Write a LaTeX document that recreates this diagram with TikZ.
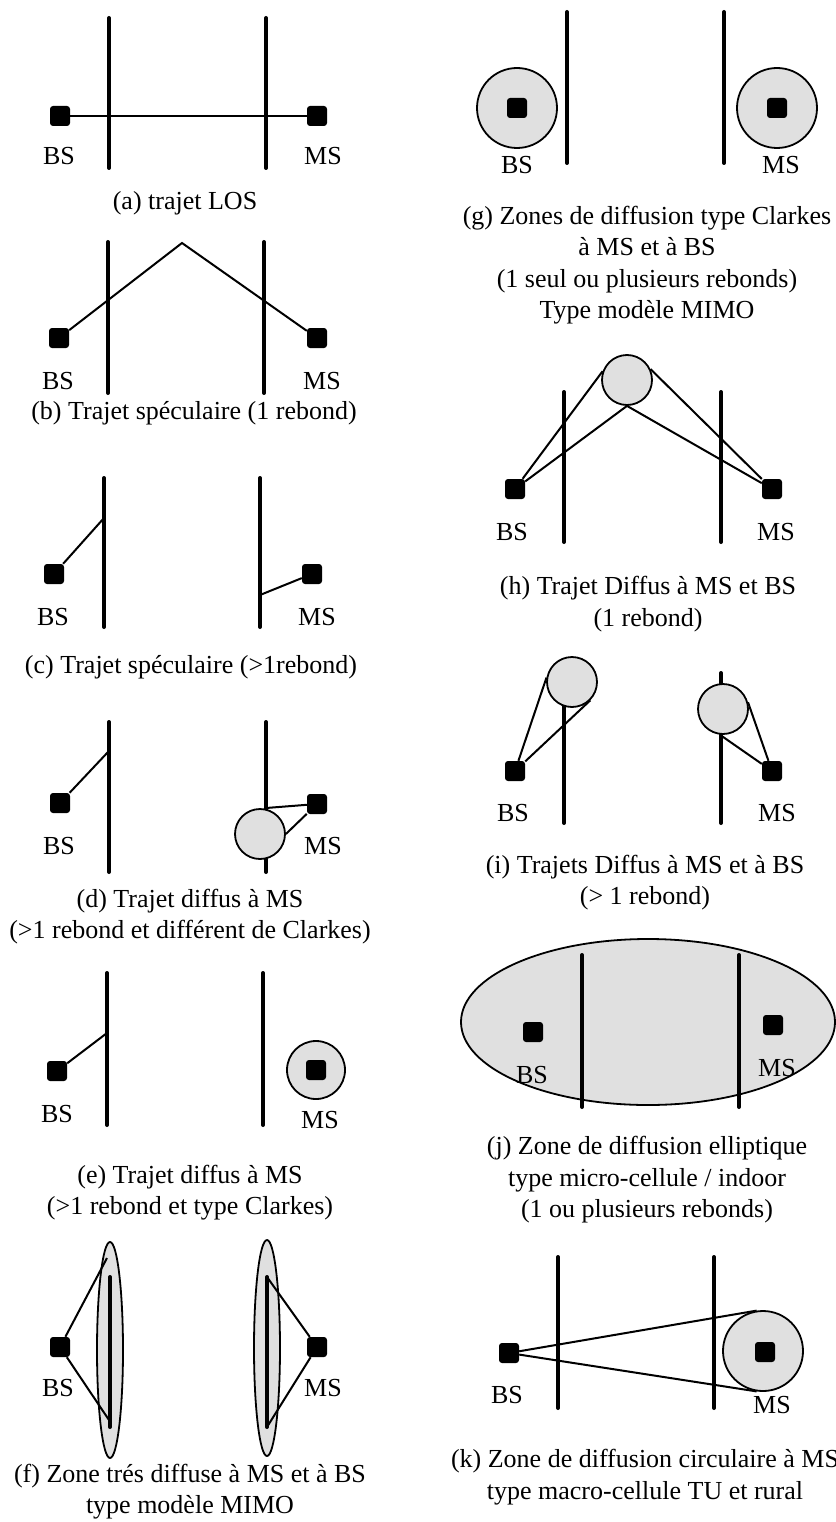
\documentclass[tikz,border=0pt]{standalone}
\usepackage{fontspec}
\setmainfont{Liberation Serif}
\usetikzlibrary{calc}
\definecolor{zonegray}{RGB}{224,224,224}

\begin{document}
\begin{tikzpicture}[x=1pt,y=-1pt,
  wall/.style={line width=4pt,line cap=round},
  ray/.style={line width=2pt},
  station/.style={fill=black,rounded corners=3pt,minimum size=20pt,inner sep=0pt},
  zone/.style={circle,draw,line width=1.8pt,fill=zonegray,inner sep=0pt},
  zonering/.style={draw,line width=1.8pt,fill=zonegray},
  lbl/.style={font=\fontsize{26}{31.5}\selectfont,inner sep=0pt},
  capt/.style={lbl,align=center}]
  \useasboundingbox (0,0) rectangle (835,1522);

  % (a) trajet LOS
  \begin{scope}
    \node[station] (bsA) at (60,116) {};
    \node[station] (msA) at (317,116) {};
    \draw[ray] (bsA) -- (msA);
    \draw[wall] (109,18) -- (109,168);
    \draw[wall] (266,18) -- (266,168);
    \node[lbl] (bsAt) at (59,156) {BS};
    \node[lbl] (msAt) at (323,156) {MS};
    \node[capt] (capA) at (185,203) {(a) trajet LOS};
  \end{scope}

  % (b) specular, one bounce
  \begin{scope}
    \node[station] (bsB) at (59,338) {};
    \node[station] (msB) at (317,338) {};
    \coordinate (apexB) at (182,243);
    \draw[ray] (bsB) -- (apexB) -- (msB);
    \draw[wall] (108,242) -- (108,393);
    \draw[wall] (264,242) -- (264,393);
    \node[lbl] (bsBt) at (58,381) {BS};
    \node[lbl] (msBt) at (322,381) {MS};
    \node[capt] (capB) at (194,413) {(b) Trajet spéculaire (1 rebond)};
  \end{scope}

  % (c) specular, more bounces
  \begin{scope}
    \node[station] (bsC) at (54,574) {};
    \node[station] (msC) at (312,574) {};
    \coordinate (hitC1) at (104,518);
    \coordinate (hitC2) at (260,595);
    \draw[ray] (bsC) -- (hitC1);
    \draw[ray] (msC) -- (hitC2);
    \draw[wall] (104,478) -- (104,627);
    \draw[wall] (260,478) -- (260,627);
    \node[lbl] (bsCt) at (53,617) {BS};
    \node[lbl] (msCt) at (317,617) {MS};
    \node[capt] (capC) at (191,667) {(c) Trajet spéculaire (>1rebond)};
  \end{scope}

  % (d) diffuse at MS
  \begin{scope}
    \node[station] (bsD) at (60,803) {};
    \node[station] (msD) at (317,804) {};
    \draw[wall] (109,722) -- (109,872);
    \draw[wall] (266,722) -- (266,872);
    \node[zone,minimum size=50pt] (zoneD) at (260,834) {};
    \coordinate (hitD1) at (108,752);
    \coordinate (hitD2) at (266,808);
    \draw[ray] (bsD) -- (hitD1);
    \draw[ray] (msD) -- (hitD2);
    \draw[ray] (msD) -- (zoneD.east);
    \node[lbl] (bsDt) at (59,846) {BS};
    \node[lbl] (msDt) at (323,846) {MS};
    \node[capt] (capD) at (190,916.5) {(d) Trajet diffus à MS\\(>1 rebond et différent de Clarkes)};
  \end{scope}

  % (e) Clarkes zone at MS
  \begin{scope}
    \node[station] (bsE) at (57,1071) {};
    \coordinate (hitE) at (107,1033);
    \draw[ray] (bsE) -- (hitE);
    \draw[wall] (107,973) -- (107,1125);
    \draw[wall] (263,973) -- (263,1125);
    \node[zone,minimum size=58pt] (zoneE) at (316,1070) {};
    \node[station] (msE) at (316,1070) {};
    \node[lbl] (bsEt) at (57,1114) {BS};
    \node[lbl] (msEt) at (320,1120) {MS};
    \node[capt] (capE) at (190,1192.5) {(e) Trajet diffus à MS\\(>1 rebond et type Clarkes)};
  \end{scope}

  % (f) very diffuse zones
  \begin{scope}
    \draw[zonering] (110,1350) ellipse [x radius=13pt,y radius=108pt];
    \draw[zonering] (267,1348) ellipse [x radius=13pt,y radius=108pt];
    \draw[wall] (110,1277) -- (110,1427);
    \draw[wall] (267,1277) -- (267,1427);
    \node[station] (bsF) at (60,1347) {};
    \node[station] (msF) at (317,1347) {};
    \coordinate (hitF1) at (107,1258);
    \coordinate (hitF2) at (109,1420);
    \coordinate (hitF3) at (267,1277);
    \coordinate (hitF4) at (267,1427);
    \draw[ray] (hitF1) -- (bsF) -- (hitF2);
    \draw[ray] (hitF3) -- (msF) -- (hitF4);
    \node[lbl] (bsFt) at (58,1388) {BS};
    \node[lbl] (msFt) at (323,1388) {MS};
    \node[capt] (capF) at (190,1491.5) {(f) Zone trés diffuse à MS et à BS\\type modèle MIMO};
  \end{scope}

  % (g) Clarkes zones at both ends
  \begin{scope}
    \draw[wall] (567,12) -- (567,163);
    \draw[wall] (724,12) -- (724,163);
    \node[zone,minimum size=80pt] (zoneGb) at (517,108) {};
    \node[station] (bsG) at (517,108) {};
    \node[zone,minimum size=80pt] (zoneGm) at (777,108) {};
    \node[station] (msG) at (777,108) {};
    \node[lbl] (bsGt) at (517,165) {BS};
    \node[lbl] (msGt) at (781,165) {MS};
    \node[capt] (capG) at (647,265) {(g) Zones de diffusion type Clarkes\\à MS et à BS\\(1 seul ou plusieurs rebonds)\\Type modèle MIMO};
  \end{scope}

  % (h) one diffuse bounce
  \begin{scope}
    \draw[wall] (564,392) -- (564,542);
    \draw[wall] (721,392) -- (721,542);
    \node[station] (bsH) at (515,489) {};
    \node[station] (msH) at (772,489) {};
    \node[zone,minimum size=50pt] (zoneH) at (627,380) {};
    \draw[ray] (bsH) -- (zoneH.160);
    \draw[ray] (bsH) -- (zoneH.south);
    \draw[ray] (msH) -- (zoneH.25);
    \draw[ray] (msH) -- (zoneH.south);
    \node[lbl] (bsHt) at (512,532) {BS};
    \node[lbl] (msHt) at (776,532) {MS};
    \node[capt] (capH) at (648,604) {(h) Trajet Diffus à MS et BS\\(1 rebond)};
  \end{scope}

  % (i) diffuse at both ends
  \begin{scope}
    \draw[wall] (564,690) -- (564,823);
    \draw[wall] (721,673) -- (721,823);
    \node[station] (bsI) at (515,771) {};
    \node[station] (msI) at (772,771) {};
    \node[zone,minimum size=50pt] (zoneIb) at (572,682) {};
    \node[zone,minimum size=50pt] (zoneIm) at (723,709) {};
    \draw[ray] (bsI) -- (zoneIb.170);
    \draw[ray] (bsI) -- (zoneIb.-45);
    \draw[ray] (msI) -- (zoneIm.15);
    \draw[ray] (msI) -- (zoneIm.-97);
    \node[lbl] (bsIt) at (513,813) {BS};
    \node[lbl] (msIt) at (777,813) {MS};
    \node[capt] (capI) at (645,882.5) {(i) Trajets Diffus à MS et à BS\\(> 1 rebond)};
  \end{scope}

  % (j) elliptic zone
  \begin{scope}
    \draw[zonering] (648,1022) ellipse [x radius=187pt,y radius=83pt];
    \draw[wall] (582,955) -- (582,1107);
    \draw[wall] (739,955) -- (739,1107);
    \node[station] (bsJ) at (533,1032) {};
    \node[station] (msJ) at (773,1025) {};
    \node[lbl] (bsJt) at (532,1075) {BS};
    \node[lbl] (msJt) at (777,1068) {MS};
    \node[capt] (capJ) at (647,1180) {(j) Zone de diffusion elliptique\\type micro-cellule / indoor\\(1 ou plusieurs rebonds)};
  \end{scope}

  % (k) circular zone at MS
  \begin{scope}
    \draw[wall] (558,1257) -- (558,1408);
    \draw[wall] (714,1257) -- (714,1408);
    \node[station] (bsK) at (509,1353) {};
    \node[zone,minimum size=80pt] (zoneK) at (763,1351) {};
    \node[station] (msK) at (765,1352) {};
    \draw[ray] (bsK) -- (zoneK.99);
    \draw[ray] (bsK) -- (zoneK.-99);
    \node[lbl] (bsKt) at (507,1395) {BS};
    \node[lbl] (msKt) at (772,1405) {MS};
    \node[capt] (capK) at (645,1477) {(k) Zone de diffusion circulaire à MS\\type macro-cellule TU et rural};
  \end{scope}
\end{tikzpicture}
\end{document}
